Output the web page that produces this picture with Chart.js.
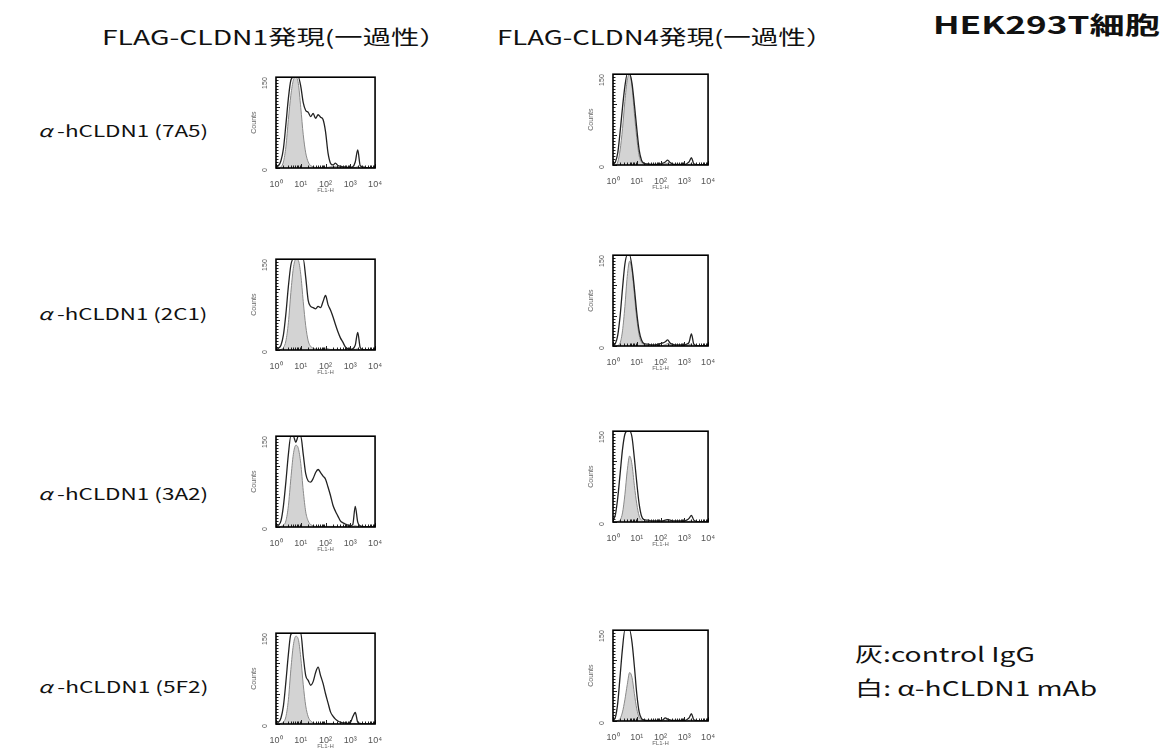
<!DOCTYPE html>
<html>
<head>
<meta charset="utf-8">
<script src="https://cdn.jsdelivr.net/npm/chart.js@4.4.1/dist/chart.umd.min.js"></script>
<style>
  html, body { margin: 0; padding: 0; background: #fff; }
  #page { position: relative; width: 1170px; height: 750px; overflow: hidden; background: #fff; }
  .txt { position: absolute; white-space: nowrap; color: #111; font-family: "Noto Sans CJK JP", "Noto Sans", sans-serif; line-height: 1; transform-origin: left center; }
  .panel { position: absolute; }
</style>
</head>
<body>
<div id="page"></div>
<script>
// ---------------- data ----------------
// FL1-H position on the log10 axis (10^0 … 10^4)
const fl1Log = [0.0,0.1,0.2,0.3,0.4,0.5,0.6,0.7,0.8,0.9,
                1.0,1.1,1.2,1.3,1.4,1.5,1.6,1.7,1.8,1.9,
                2.0,2.1,2.2,2.3,2.4,2.5,2.6,2.7,2.8,2.9,
                3.0,3.1,3.2,3.3,3.4,3.5,3.6,3.7,3.8,3.9,4.0];

const columnTitles = ["FLAG-CLDN1発現(一過性）", "FLAG-CLDN4発現(一過性）"];
const cloneLabels = ["7A5", "2C1", "3A2", "5F2"];
const xTickLabels = ["10⁰", "10¹", "10²", "10³", "10⁴"];
const yTickLabels = ["0", "150"];

// FLAG-CLDN1 column : gray = control IgG, white = α-hCLDN1 mAb
const ctrl_CLDN1_7A5 = [0,0,2,10,35,80,120,145,150,140, 100,55,25,10,4,2,1,1,1,1, 1,1,2,2,3,1,1,1,0,0, 0,1,1,2,0,0,0,0,0,0, 0];
const mab_CLDN1_7A5  = [1,4,12,32,72,115,145,150,150,150, 135,108,95,92,85,90,82,88,84,80, 60,25,8,5,8,4,3,2,2,1, 1,2,10,30,4,2,1,0,0,0, 0];
const ctrl_CLDN1_2C1 = [0,0,1,4,15,45,95,135,150,148, 125,80,40,15,6,3,2,1,1,2, 3,2,1,1,1,1,0,0,0,0, 0,1,1,2,0,0,0,0,0,0, 0];
const mab_CLDN1_2C1  = [1,3,8,25,60,105,140,150,150,150, 150,150,120,82,72,70,68,72,70,80, 90,75,66,55,42,30,20,13,5,2, 1,2,8,29,4,1,0,0,0,0, 0];
const ctrl_CLDN1_3A2 = [0,0,1,3,10,35,80,120,135,130, 105,60,25,10,4,2,1,1,1,1, 1,1,1,1,1,0,0,0,0,0, 0,1,2,1,0,0,0,0,0,0, 0];
const mab_CLDN1_3A2  = [1,3,10,35,75,120,150,150,140,150, 150,120,88,76,74,80,90,95,90,84, 79,66,52,36,26,18,10,7,5,3, 2,4,34,8,2,1,0,0,0,0, 0];
const ctrl_CLDN1_5F2 = [0,0,1,3,12,40,90,130,145,140, 110,65,30,12,5,2,1,1,1,1, 1,1,1,1,0,0,0,0,0,0, 0,1,1,0,0,0,0,0,0,0, 0];
const mab_CLDN1_5F2  = [1,3,10,30,70,115,148,150,150,150, 150,112,80,72,64,70,85,94,80,67, 50,35,20,13,8,5,3,2,2,1, 2,12,19,3,1,0,0,0,0,0, 0];

// FLAG-CLDN4 column
const ctrl_CLDN4_7A5 = [0,0,5,25,60,105,140,150,130,85, 45,15,5,2,1,1,0,0,0,0, 0,1,2,3,1,0,0,0,0,0, 0,0,1,2,0,0,0,0,0,0, 0];
const mab_CLDN4_7A5  = [1,5,20,55,95,130,150,150,135,100, 60,25,8,3,2,2,1,1,1,1, 2,3,5,8,4,2,1,1,1,1, 1,2,5,12,2,1,0,0,0,0, 0];
const ctrl_CLDN4_2C1 = [0,0,1,5,25,65,115,140,125,85, 45,18,6,2,1,1,0,0,0,0, 0,1,2,4,2,1,0,0,0,0, 0,1,2,3,0,0,0,0,0,0, 0];
const mab_CLDN4_2C1  = [1,4,18,50,95,135,150,150,130,95, 55,25,10,4,3,3,2,2,2,3, 4,5,7,10,5,3,2,2,2,2, 2,3,6,20,3,1,0,0,0,0, 0];
const ctrl_CLDN4_3A2 = [0,0,1,3,15,45,85,109,95,60, 30,10,3,1,1,0,0,0,0,0, 0,1,1,2,1,0,0,0,0,0, 0,0,1,2,0,0,0,0,0,0, 0];
const mab_CLDN4_3A2  = [2,12,40,80,120,145,150,150,140,105, 65,30,10,4,3,3,2,2,2,2, 2,2,3,4,3,2,2,2,2,2, 2,3,6,11,3,1,0,0,0,0, 0];
const ctrl_CLDN4_5F2 = [0,0,1,4,15,35,60,80,72,45, 20,6,2,1,0,0,0,0,0,0, 0,0,1,2,1,0,0,0,0,0, 0,0,1,2,0,0,0,0,0,0, 0];
const mab_CLDN4_5F2  = [1,6,30,75,120,150,150,150,130,90, 45,15,4,2,1,1,1,1,1,1, 1,2,5,3,2,1,1,1,1,1, 1,2,5,12,2,1,0,0,0,0, 0];

const panelData = [
  [ [ctrl_CLDN1_7A5, mab_CLDN1_7A5], [ctrl_CLDN4_7A5, mab_CLDN4_7A5] ],
  [ [ctrl_CLDN1_2C1, mab_CLDN1_2C1], [ctrl_CLDN4_2C1, mab_CLDN4_2C1] ],
  [ [ctrl_CLDN1_3A2, mab_CLDN1_3A2], [ctrl_CLDN4_3A2, mab_CLDN4_3A2] ],
  [ [ctrl_CLDN1_5F2, mab_CLDN1_5F2], [ctrl_CLDN4_5F2, mab_CLDN4_5F2] ]
];

// ---------------- layout ----------------
const page = document.getElementById('page');
const Y_AXIS_W = 26, X_AXIS_H = 26, PAD_TOP = 4, PAD_RIGHT = 8;
const colBoxLeft = [276, 613];
const colBoxWidth = [101, 97];
const boxTops = [[74, 71], [256, 252], [433, 428], [630, 627]];
const BOX_H = 94;

function addText(html, left, cy, targetW, size, weight) {
  const s = document.createElement('span');
  s.className = 'txt';
  s.innerHTML = html;
  s.style.left = left + 'px';
  s.style.top = cy + 'px';
  s.style.fontSize = size + 'px';
  s.style.fontWeight = weight || 400;
  page.appendChild(s);
  const w = s.offsetWidth;
  const k = targetW / w;
  s.style.transform = 'translateY(-50%) scaleX(' + k.toFixed(3) + ')';
}

addText(columnTitles[0], 102, 37, 345, 20, 400);
addText(columnTitles[1], 497, 37, 336, 20, 400);
addText('HEK293T細胞', 933, 24, 227, 24, 700);
const rowCy = [130, 313, 493, 686];
cloneLabels.forEach((c, i) => {
  addText('<i>α</i> -hCLDN1 (' + c + ')', 38, rowCy[i], 170, 16, 400);
});
addText('灰:control IgG', 855, 654, 180, 20, 400);
addText('白: α-hCLDN1 mAb', 855, 688, 242, 20, 400);

// ---------------- charts ----------------
const xTickVals = [];
for (let d = 0; d < 4; d++) for (let k = 1; k <= 9; k++) xTickVals.push(d + Math.log10(k));
xTickVals.push(4);
const yTickVals = [];
for (let v = 0; v <= 150; v += 5) yTickVals.push(v);

const framePlugin = {
  id: 'frame',
  afterDatasetsDraw(chart) {
    const { ctx, chartArea: a, scales } = chart;
    ctx.save();
    ctx.strokeStyle = '#222';
    ctx.lineWidth = 1;
    ctx.beginPath();
    scales.y.ticks.forEach(t => {
      const y = Math.round(scales.y.getPixelForValue(t.value)) + 0.5;
      const len = (t.value % 50 === 0) ? 4 : 2.5;
      ctx.moveTo(a.left, y); ctx.lineTo(a.left + len, y);
    });
    scales.x.ticks.forEach(t => {
      const x = Math.round(scales.x.getPixelForValue(t.value)) + 0.5;
      const major = Math.abs(t.value - Math.round(t.value)) < 1e-6;
      const len = major ? 4 : 2.5;
      ctx.moveTo(x, a.bottom); ctx.lineTo(x, a.bottom - len);
    });
    ctx.stroke();
    ctx.lineWidth = 1.6;
    ctx.strokeStyle = '#000';
    ctx.strokeRect(a.left, a.top, a.right - a.left, a.bottom - a.top);
    ctx.restore();
  }
};

function toPts(arr) { return fl1Log.map((x, i) => ({ x: x, y: arr[i] })); }

for (let r = 0; r < 4; r++) {
  for (let c = 0; c < 2; c++) {
    const cw = Y_AXIS_W + colBoxWidth[c] + PAD_RIGHT;
    const ch = PAD_TOP + BOX_H + X_AXIS_H;
    const div = document.createElement('div');
    div.className = 'panel';
    div.style.left = (colBoxLeft[c] - Y_AXIS_W) + 'px';
    div.style.top = (boxTops[r][c] - PAD_TOP) + 'px';
    div.style.width = cw + 'px';
    div.style.height = ch + 'px';
    const cv = document.createElement('canvas');
    cv.width = cw; cv.height = ch;
    cv.style.width = cw + 'px'; cv.style.height = ch + 'px';
    div.appendChild(cv);
    page.appendChild(div);

    const [ctrl, mab] = panelData[r][c];
    new Chart(cv, {
      type: 'line',
      data: {
        datasets: [
          { label: 'α-hCLDN1 mAb', data: toPts(mab), fill: false, borderColor: '#222', borderWidth: 1.3,
            pointRadius: 0, cubicInterpolationMode: 'monotone' },
          { label: 'control IgG', data: toPts(ctrl), fill: 'origin', backgroundColor: 'rgba(200,200,200,0.8)',
            borderColor: '#8a8a8a', borderWidth: 1, pointRadius: 0, cubicInterpolationMode: 'monotone' }
        ]
      },
      options: {
        responsive: false,
        animation: false,
        devicePixelRatio: 1,
        layout: { padding: { top: PAD_TOP, right: PAD_RIGHT, left: 0, bottom: 0 } },
        plugins: { legend: { display: false }, tooltip: { enabled: false } },
        scales: {
          x: {
            type: 'linear', min: 0, max: 4,
            afterBuildTicks: s => { s.ticks = xTickVals.map(v => ({ value: v })); },
            afterFit: s => { s.height = X_AXIS_H; },
            grid: { display: false }, border: { display: false },
            ticks: {
              autoSkip: false, maxRotation: 0, minRotation: 0, padding: 3,
              color: '#555', font: { family: 'Liberation Sans', size: 9 },
              callback: v => {
                const n = Math.round(v);
                return Math.abs(v - n) < 1e-6 ? xTickLabels[n] : '';
              }
            },
            title: { display: true, text: 'FL1-H', color: '#666', font: { family: 'Liberation Sans', size: 6 }, padding: 0 }
          },
          y: {
            type: 'linear', min: 0, max: 150,
            afterBuildTicks: s => { s.ticks = yTickVals.map(v => ({ value: v })); },
            afterFit: s => { s.width = Y_AXIS_W; },
            grid: { display: false }, border: { display: false },
            ticks: {
              autoSkip: false, minRotation: 90, maxRotation: 90, padding: 3,
              color: '#555', font: { family: 'Liberation Sans', size: 7 },
              callback: v => v === 0 ? yTickLabels[0] : (v === 150 ? yTickLabels[1] : '')
            },
            title: { display: true, text: 'Counts', color: '#666', font: { family: 'Liberation Sans', size: 7 }, padding: 0 }
          }
        }
      },
      plugins: [framePlugin]
    });
  }
}
</script>
</body>
</html>
